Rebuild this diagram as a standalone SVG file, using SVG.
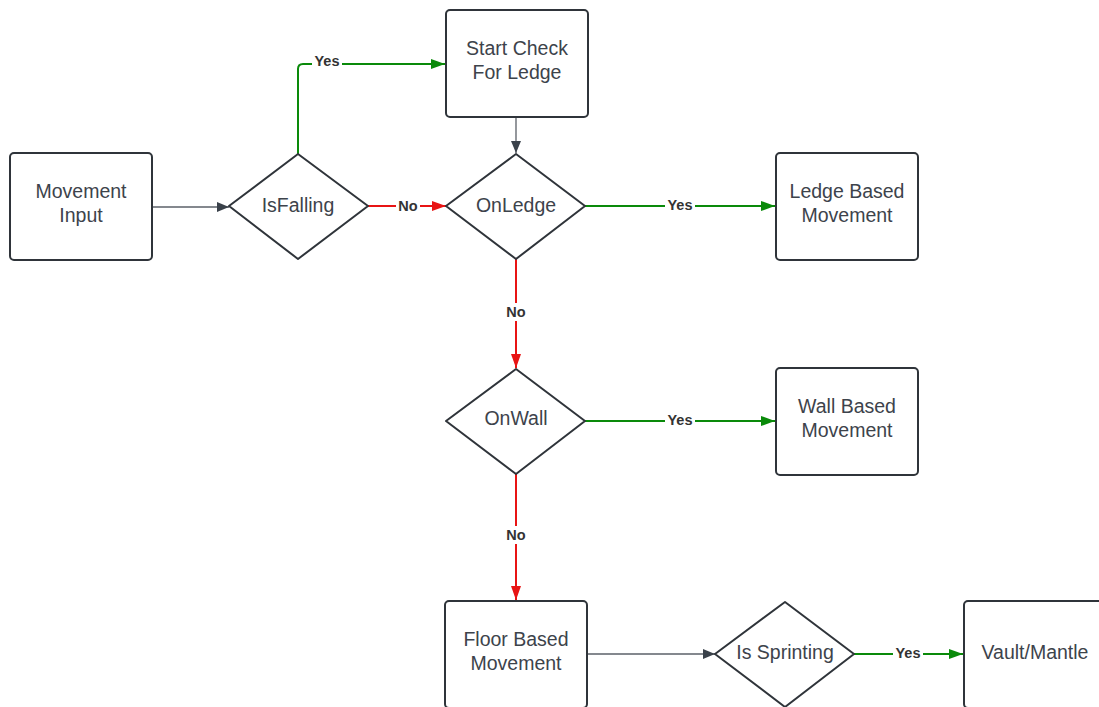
<svg xmlns="http://www.w3.org/2000/svg" width="1099" height="707" viewBox="0 0 1099 707">
  <defs>
    <marker id="ah-gray" markerWidth="12" markerHeight="10" refX="12" refY="5" orient="auto" markerUnits="userSpaceOnUse">
      <path d="M0,0 L12,5 L0,10 Z" fill="#3a414a"/>
    </marker>
    <marker id="ah-green" markerWidth="14" markerHeight="10" refX="14" refY="5" orient="auto" markerUnits="userSpaceOnUse">
      <path d="M0,0 L14,5 L0,10 Z" fill="#0a8a0a"/>
    </marker>
    <marker id="ah-red" markerWidth="14" markerHeight="10" refX="14" refY="5" orient="auto" markerUnits="userSpaceOnUse">
      <path d="M0,0 L14,5 L0,10 Z" fill="#e81414"/>
    </marker>
  </defs>
  <style>
    .box { fill: #ffffff; stroke: #2f343a; stroke-width: 2; }
    .dia { fill: #ffffff; stroke: #2f343a; stroke-width: 2; stroke-linejoin: round; }
    .t { font-family: "Liberation Sans", Arial, sans-serif; font-size: 19.5px; fill: #3d434b; text-anchor: middle; }
    .lbl { font-family: "Liberation Sans", Arial, sans-serif; font-size: 14.5px; font-weight: bold; fill: #333333; text-anchor: middle; }
    .lblbg { fill: #ffffff; }
    .c-gray { fill: none; stroke: #5b6068; stroke-width: 1.3; marker-end: url(#ah-gray); }
    .c-green { fill: none; stroke: #0a8a0a; stroke-width: 2; marker-end: url(#ah-green); }
    .c-red { fill: none; stroke: #e81414; stroke-width: 2; marker-end: url(#ah-red); }
  </style>
  <rect width="1099" height="707" fill="#ffffff"/>

  <g id="connectors">
    <path class="c-gray" d="M152,207 H229"/>
    <path class="c-red" d="M368,206 H446"/>
    <path class="c-green" d="M298,154 V69 Q298,64 303,64 H445"/>
    <path class="c-gray" d="M516,117 V153"/>
    <path class="c-green" d="M585,206 H775"/>
    <path class="c-red" d="M516,259 V368"/>
    <path class="c-green" d="M585,421 H775"/>
    <path class="c-red" d="M516,474 V600"/>
    <path class="c-gray" d="M587,654 H715"/>
    <path class="c-green" d="M854,654 H963"/>

    <rect class="lblbg" x="312" y="53" width="30" height="16"/>
    <text class="lbl" x="327" y="66">Yes</text>
    <rect class="lblbg" x="396" y="198" width="24" height="16"/>
    <text class="lbl" x="408" y="211">No</text>
    <rect class="lblbg" x="665" y="198" width="30" height="16"/>
    <text class="lbl" x="680" y="210">Yes</text>
    <rect class="lblbg" x="503" y="303" width="26" height="18"/>
    <text class="lbl" x="516" y="317">No</text>
    <rect class="lblbg" x="665" y="413" width="30" height="16"/>
    <text class="lbl" x="680" y="425">Yes</text>
    <rect class="lblbg" x="503" y="526" width="26" height="18"/>
    <text class="lbl" x="516" y="540">No</text>
    <rect class="lblbg" x="893" y="646" width="30" height="16"/>
    <text class="lbl" x="908" y="658">Yes</text>
  </g>

  <g id="movement-input">
    <rect class="box" x="10" y="153" width="142" height="107" rx="4"/>
    <text class="t" x="81" y="198">Movement</text>
    <text class="t" x="81" y="222">Input</text>
  </g>

  <g id="is-falling">
    <path class="dia" d="M298,154 L368,206 L298,259 L229,206 Z"/>
    <text class="t" x="298" y="212">IsFalling</text>
  </g>

  <g id="start-check">
    <rect class="box" x="446" y="10" width="142" height="107" rx="4"/>
    <text class="t" x="517" y="55">Start Check</text>
    <text class="t" x="517" y="79">For Ledge</text>
  </g>

  <g id="on-ledge">
    <path class="dia" d="M516,154 L585,206 L516,259 L446,206 Z"/>
    <text class="t" x="516" y="212">OnLedge</text>
  </g>

  <g id="ledge-based">
    <rect class="box" x="776" y="153" width="142" height="107" rx="4"/>
    <text class="t" x="847" y="198">Ledge Based</text>
    <text class="t" x="847" y="222">Movement</text>
  </g>

  <g id="on-wall">
    <path class="dia" d="M516,369 L585,421 L516,474 L446,421 Z"/>
    <text class="t" x="516" y="425">OnWall</text>
  </g>

  <g id="wall-based">
    <rect class="box" x="776" y="368" width="142" height="107" rx="4"/>
    <text class="t" x="847" y="413">Wall Based</text>
    <text class="t" x="847" y="437">Movement</text>
  </g>

  <g id="floor-based">
    <rect class="box" x="445" y="601" width="142" height="107" rx="4"/>
    <text class="t" x="516" y="646">Floor Based</text>
    <text class="t" x="516" y="670">Movement</text>
  </g>

  <g id="is-sprinting">
    <path class="dia" d="M785,602 L854,654 L785,707 L715,654 Z"/>
    <text class="t" x="785" y="659">Is Sprinting</text>
  </g>

  <g id="vault-mantle">
    <rect class="box" x="964" y="601" width="142" height="107" rx="4"/>
    <text class="t" x="1035" y="659">Vault/Mantle</text>
  </g>
</svg>
